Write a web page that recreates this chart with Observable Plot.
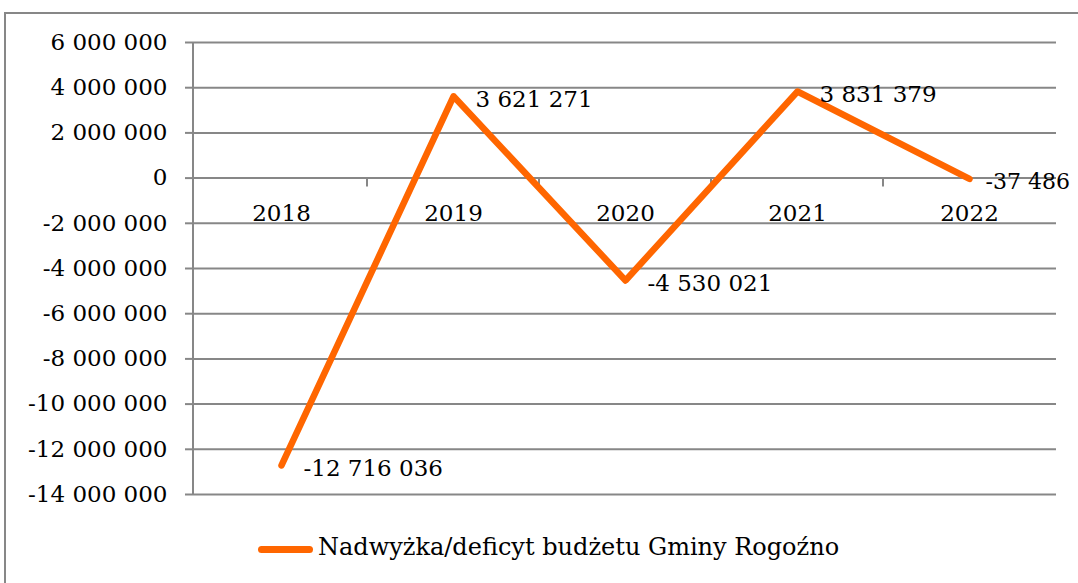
<!DOCTYPE html>
<html>
<head>
<meta charset="utf-8">
<script src="https://cdn.jsdelivr.net/npm/d3@7"></script>
<script src="https://cdn.jsdelivr.net/npm/@observablehq/plot@0.6"></script>
<style>
  html, body { margin: 0; padding: 0; background: #fff; overflow: hidden; }
  #wrap { position: relative; width: 1078px; height: 583px; overflow: hidden; font-family: "DejaVu Serif", serif; }
  #border { position: absolute; left: 4px; top: 12px; width: 1200px; height: 700px; border: 2px solid #878787; box-sizing: border-box; }
  #chart { position: absolute; left: 0; top: 0; }
  #legend { position: absolute; left: 0; top: 530px; width: 1078px; height: 40px; }
  #legend .sw { position: absolute; left: 258px; top: 16px; width: 55px; height: 7px; border-radius: 4px; background: #ff6600; }
  #legend .lb { position: absolute; left: 318px; top: 3px; font-size: 24px; color: #000; white-space: nowrap; font-family: "DejaVu Serif", serif; }
</style>
</head>
<body>
<div id="wrap">
  <div id="border"></div>
  <div id="chart"></div>
  <div id="legend"><div class="sw"></div><div class="lb" id="legendLabel"></div></div>
</div>
<script>
const years = ["2018", "2019", "2020", "2021", "2022"];
const values = [-12716036, 3621271, -4530021, 3831379, -37486];
const yTicks = [6000000, 4000000, 2000000, 0, -2000000, -4000000, -6000000, -8000000, -10000000, -12000000, -14000000];
const seriesName = "Nadwyżka/deficyt budżetu Gminy Rogoźno";

const data = years.map((y, i) => ({year: y, value: values[i]}));
const fmt = v => d3.format(",")(v).replace(/,/g, " ").replace("−", "-");
const grey = "#878787";
const orange = "#ff6600";
const serif = "'DejaVu Serif', serif";

document.getElementById("legendLabel").textContent = seriesName;

const plot = Plot.plot({
  width: 1078,
  height: 510,
  marginLeft: 193,
  marginRight: 22,
  marginTop: 42,
  marginBottom: 16,
  style: {fontFamily: serif, fontSize: "23px", color: "#000", background: "transparent", overflow: "visible"},
  x: {type: "band", domain: years, paddingInner: 0, paddingOuter: 0, axis: null},
  y: {domain: [-14000000, 6000000], axis: null},
  marks: [
    Plot.ruleY(yTicks, {stroke: grey, strokeWidth: 2}),
    Plot.axisY({ticks: yTicks, label: null, tickSize: 8, tickPadding: 18, tickFormat: fmt, stroke: grey, strokeWidth: 2, fill: "#000", fontSize: 23, fontFamily: serif, strokeOpacity: 1}),
    (index, scales, values, dims) => {
      const g = d3.create("svg:g");
      const x0 = dims.marginLeft;
      const yTop = scales.y(6000000), yBot = scales.y(-14000000);
      g.append("line").attr("x1", x0).attr("x2", x0).attr("y1", yTop).attr("y2", yBot)
        .attr("stroke", grey).attr("stroke-width", 2);
      const y0 = scales.y(0);
      years.slice(1).forEach(yr => {
        const xb = scales.x(yr);
        g.append("line").attr("x1", xb).attr("x2", xb).attr("y1", y0).attr("y2", y0 + 9)
          .attr("stroke", grey).attr("stroke-width", 2);
      });
      return g.node();
    },
    Plot.text(years, {x: d => d, y: () => 0, dy: 36, text: d => d, fontSize: 23, fontFamily: serif, fill: "#000"}),
    Plot.line(data, {x: "year", y: "value", stroke: orange, strokeWidth: 6.5, strokeLinecap: "round", strokeLinejoin: "round"}),
    Plot.text(data.slice(0, 4), {x: "year", y: "value", text: d => fmt(d.value), textAnchor: "start", dx: 22, dy: 3, fontSize: 23, fontFamily: serif, fill: "#000"}),
    Plot.text(data.slice(4), {x: "year", y: "value", text: d => fmt(d.value), textAnchor: "start", dx: 16, dy: 3, fontSize: 22, fontFamily: serif, fill: "#000"})
  ]
});
document.getElementById("chart").appendChild(plot);
</script>
</body>
</html>
